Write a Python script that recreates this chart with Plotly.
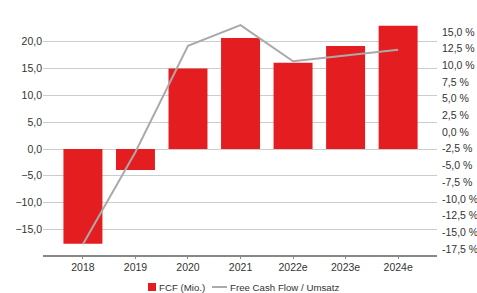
import plotly.graph_objects as go

categories = ["2018", "2019", "2020", "2021", "2022e", "2023e", "2024e"]
fcf_mio = [-17.7, -3.9, 15.0, 20.7, 16.1, 19.2, 23.0]
fcf_margin = [-16.8, -3.0, 12.9, 16.0, 10.6, 11.5, 12.3]
series_names = ["FCF (Mio.)", "Free Cash Flow / Umsatz"]

left_ticks = [-15, -10, -5, 0, 5, 10, 15, 20]
right_ticks = [-17.5, -15, -12.5, -10, -7.5, -5, -2.5, 0, 2.5, 5, 7.5, 10, 12.5, 15]
right_ticktext = [f"{v:.1f} %".replace(".", ",") for v in right_ticks]

BAR_COLOR = "#e41e20"
LINE_COLOR = "#aaaaaa"
font = dict(family="Liberation Sans, Arial, sans-serif", size=10.5, color="#333333")
legend_font = dict(family=font["family"], size=9.7, color="#333333")

fig = go.Figure()
fig.add_trace(go.Bar(
    x=list(range(len(categories))), y=fcf_mio, name=series_names[0],
    marker=dict(color=BAR_COLOR, line=dict(width=0)), showlegend=False,
))
fig.add_trace(go.Scatter(
    x=list(range(len(categories))), y=fcf_margin, name=series_names[1],
    mode="lines", line=dict(color=LINE_COLOR, width=2), yaxis="y2", showlegend=False,
))

# legend (drawn below the plot, paper coordinates)
ly = -0.1362
fig.add_shape(type="rect", xref="paper", yref="paper",
              x0=0.2665, x1=0.2868, y0=-0.1532, y1=-0.1191,
              fillcolor=BAR_COLOR, line=dict(width=0))
fig.add_shape(type="line", xref="paper", yref="paper",
              x0=0.4289, x1=0.4670, y0=ly, y1=ly,
              line=dict(color=LINE_COLOR, width=2))
fig.add_annotation(text=series_names[0], xref="paper", yref="paper", x=0.2893, y=ly,
                   xanchor="left", yanchor="middle", showarrow=False, font=legend_font)
fig.add_annotation(text=series_names[1], xref="paper", yref="paper", x=0.4695, y=ly,
                   xanchor="left", yanchor="middle", showarrow=False, font=legend_font)

fig.update_layout(
    width=477, height=293,
    margin=dict(l=43, r=40, t=20, b=38, autoexpand=False),
    paper_bgcolor="white", plot_bgcolor="white",
    font=font,
    separators=",.",
    bargap=0.258,
    showlegend=False,
    xaxis=dict(
        tickmode="array", tickvals=list(range(len(categories))), ticktext=categories,
        range=[-0.76, 6.74], showgrid=False, zeroline=False, automargin=False,
        showline=True, linecolor="#888888", linewidth=1.5,
        ticks="outside", ticklen=2, tickcolor="#888888",
    ),
    yaxis=dict(
        range=[-19.78, 24.07], tickmode="array", tickvals=left_ticks, automargin=False,
        tickformat=".1f", showgrid=True, gridcolor="#cccccc", gridwidth=1,
        zeroline=False, showline=False, ticks="",
    ),
    yaxis2=dict(
        overlaying="y", side="right", range=[-18.41, 16.77], automargin=False,
        tickmode="array", tickvals=right_ticks, ticktext=right_ticktext,
        ticklabelstandoff=4,
        showgrid=False, zeroline=False, showline=False, ticks="",
    ),
)

fig.write_html(
    "out.html",
    config={"displayModeBar": False},
    post_script="document.body.style.margin='0';document.body.style.overflow='hidden';",
)
